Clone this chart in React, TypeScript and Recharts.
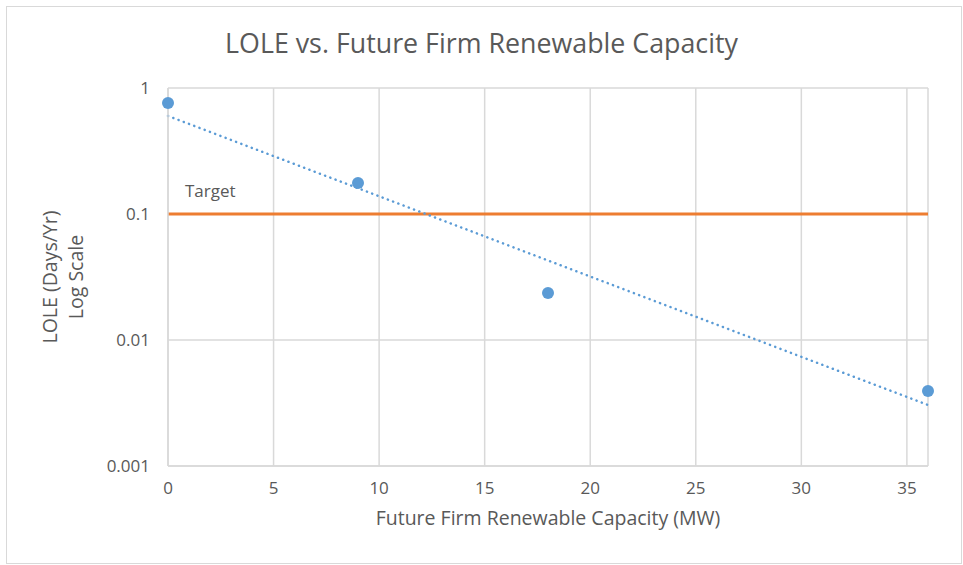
import React from 'react';
import {
  ComposedChart,
  Scatter,
  Line,
  XAxis,
  YAxis,
  CartesianGrid,
  ReferenceLine,
} from 'recharts';

// valeurs
const capacity = [0, 9, 18, 36];
const lole = [0.76, 0.176, 0.0236, 0.00394];

// tendance exponentielle (extrémités)
const trendX = [0, 36];
const trendY = [0.6, 0.00305];

const targetLole = 0.1;

const xTicks = [0, 5, 10, 15, 20, 25, 30, 35];
const yTicks = [0.001, 0.01, 0.1, 1];

const points = capacity.map((x, i) => ({ x, lole: lole[i] }));
const trend = trendX.map((x, i) => ({ x, trend: trendY[i] }));

const FONT = '"Open Sans", sans-serif';
const TEXT = '#595959';
const GRID = '#d9d9d9';
const BLUE = '#5b9bd5';
const ORANGE = '#ed7d31';

const Dot = (props: any) => {
  const { cx, cy } = props;
  if (cx == null || cy == null) return null;
  return <circle cx={cx} cy={cy} r={6} fill={BLUE} />;
};

const YLabel = (props: any) => {
  const vb = props.viewBox || {};
  const cy = vb.y + vb.height / 2;
  const x1 = vb.x + 49;
  const x2 = vb.x + 75;
  return (
    <g fill={TEXT} fontSize={19.5} fontFamily={FONT}>
      <text x={x1} y={cy} transform={`rotate(-90 ${x1} ${cy})`} textAnchor="middle" dominantBaseline="central">
        LOLE (Days/Yr)
      </text>
      <text x={x2} y={cy} transform={`rotate(-90 ${x2} ${cy})`} textAnchor="middle" dominantBaseline="central">
        Log Scale
      </text>
    </g>
  );
};

const TargetLabel = (props: any) => {
  const vb = props.viewBox || {};
  return (
    <text x={vb.x + 17} y={vb.y - 17} fill={TEXT} fontSize={17} fontFamily={FONT}>
      Target
    </text>
  );
};

export default function App() {
  return (
    <div style={{ position: 'absolute', left: 0, top: 0, width: 963, height: 565, background: '#fff' }}>
      <div
        style={{
          position: 'absolute',
          left: 6,
          top: 6,
          width: 954,
          height: 556,
          border: `1px solid ${GRID}`,
        }}
      />
      <div
        style={{
          position: 'absolute',
          left: 0,
          width: 963,
          top: 26,
          textAlign: 'center',
          fontFamily: FONT,
          fontSize: 26.8,
          color: TEXT,
          lineHeight: '34px',
        }}
      >
        LOLE vs. Future Firm Renewable Capacity
      </div>
      <div style={{ position: 'absolute', left: 0, top: 0 }}>
        <ComposedChart width={963} height={565} margin={{ top: 88, right: 35, bottom: 69, left: 0 }}>
          <CartesianGrid stroke={GRID} strokeWidth={1.5} />
          <XAxis
            type="number"
            dataKey="x"
            domain={[0, 36]}
            ticks={xTicks}
            height={30}
            axisLine={{ stroke: GRID, strokeWidth: 1.5 }}
            tickLine={false}
            tickSize={6}
            tickMargin={10}
            tick={{ fill: TEXT, fontSize: 17, fontFamily: FONT }}
            label={{
              value: 'Future Firm Renewable Capacity (MW)',
              position: 'bottom',
              offset: 15,
              fill: TEXT,
              fontSize: 19.5,
              fontFamily: FONT,
            }}
          />
          <YAxis
            type="number"
            scale="log"
            domain={[0.001, 1]}
            ticks={yTicks}
            width={168}
            axisLine={{ stroke: GRID, strokeWidth: 1.5 }}
            tickLine={false}
            tickSize={6}
            tickMargin={12}
            tickFormatter={(v: number) => String(v)}
            tick={{ fill: TEXT, fontSize: 17, fontFamily: FONT }}
            label={<YLabel />}
          />
          <ReferenceLine
            y={targetLole}
            stroke={ORANGE}
            strokeWidth={3}
            label={<TargetLabel />}
          />
          <Line
            data={trend}
            dataKey="trend"
            stroke={BLUE}
            strokeWidth={2.5}
            strokeDasharray="0.1 5.5"
            strokeLinecap="round"
            dot={false}
            activeDot={false}
            isAnimationActive={false}
          />
          <Scatter data={points} dataKey="lole" fill={BLUE} shape={<Dot />} isAnimationActive={false} />
        </ComposedChart>
      </div>
    </div>
  );
}
